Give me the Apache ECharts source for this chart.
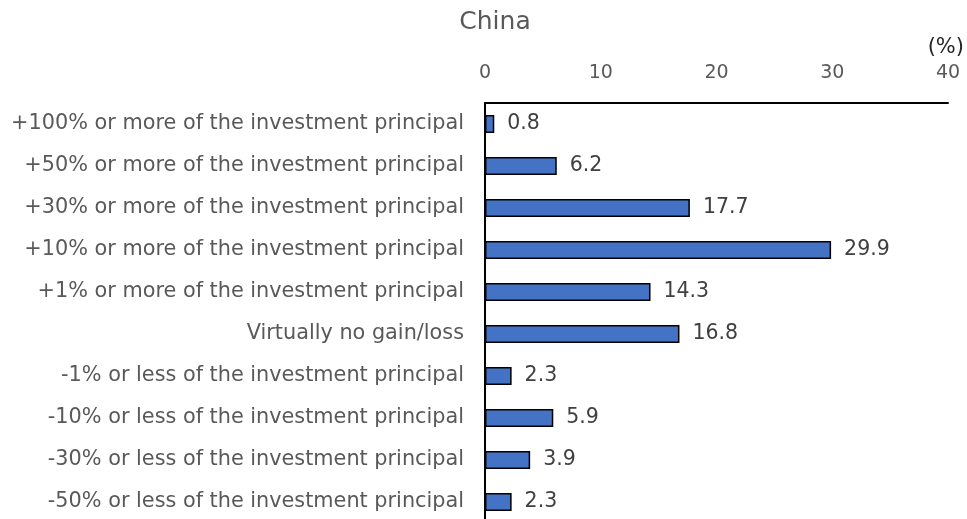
<!DOCTYPE html>
<html>
<head>
<meta charset="utf-8">
<script src="https://cdn.jsdelivr.net/npm/echarts@6/dist/echarts.min.js"></script>
<style>
  html, body { margin: 0; padding: 0; background: #ffffff; }
  #chart { width: 967px; height: 519px; }
</style>
</head>
<body>
<div id="chart"></div>
<script>
// Expected gain/loss categories, listed top to bottom
const categories = [
  '+100% or more of the investment principal',
  '+50% or more of the investment principal',
  '+30% or more of the investment principal',
  '+10% or more of the investment principal',
  '+1% or more of the investment principal',
  'Virtually no gain/loss',
  '-1% or less of the investment principal',
  '-10% or less of the investment principal',
  '-30% or less of the investment principal',
  '-50% or less of the investment principal'
];
// Share of respondents (%)
const shares = [0.8, 6.2, 17.7, 29.9, 14.3, 16.8, 2.3, 5.9, 3.9, 2.3];
const axisTicks = [0, 10, 20, 30, 40];

const FONT = 'DejaVu Sans';
const chart = echarts.init(document.getElementById('chart'));
chart.setOption({
  animation: false,
  backgroundColor: '#ffffff',
  title: {
    text: 'China',
    left: 490,
    top: 5,
    textAlign: 'center',
    textStyle: { fontFamily: FONT, fontSize: 25, fontWeight: 'normal', color: '#595959' }
  },
  graphic: [{
    type: 'text',
    right: 3,
    top: 37,
    style: { text: '(%)', fontFamily: FONT, fontSize: 21, fill: '#262626' }
  }],
  // the category band runs a little past the bottom edge so the last row sits low
  grid: { left: 485, top: 103, width: 463, height: 420, outerBoundsMode: 'none', containLabel: false },
  xAxis: {
    type: 'value',
    position: 'top',
    min: axisTicks[0],
    max: axisTicks[axisTicks.length - 1],
    interval: 10,
    axisLine: { show: true, lineStyle: { color: '#000000', width: 2 } },
    axisTick: { show: false },
    splitLine: { show: false },
    axisLabel: { fontFamily: FONT, fontSize: 19, color: '#595959', margin: 20 }
  },
  yAxis: {
    type: 'category',
    inverse: true,
    data: categories,
    axisLine: { show: true, lineStyle: { color: '#000000', width: 2 } },
    axisTick: { show: false },
    axisLabel: { fontFamily: FONT, fontSize: 20.8, color: '#595959', margin: 21 }
  },
  series: [{
    type: 'bar',
    data: shares,
    barWidth: 18,
    itemStyle: { color: '#4472C4', borderColor: '#000000', borderWidth: 1.5 },
    label: {
      show: true,
      position: 'right',
      distance: 13,
      fontFamily: FONT,
      fontSize: 20.5,
      color: '#404040',
      formatter: p => p.value.toFixed(1)
    }
  }]
});
</script>
</body>
</html>
